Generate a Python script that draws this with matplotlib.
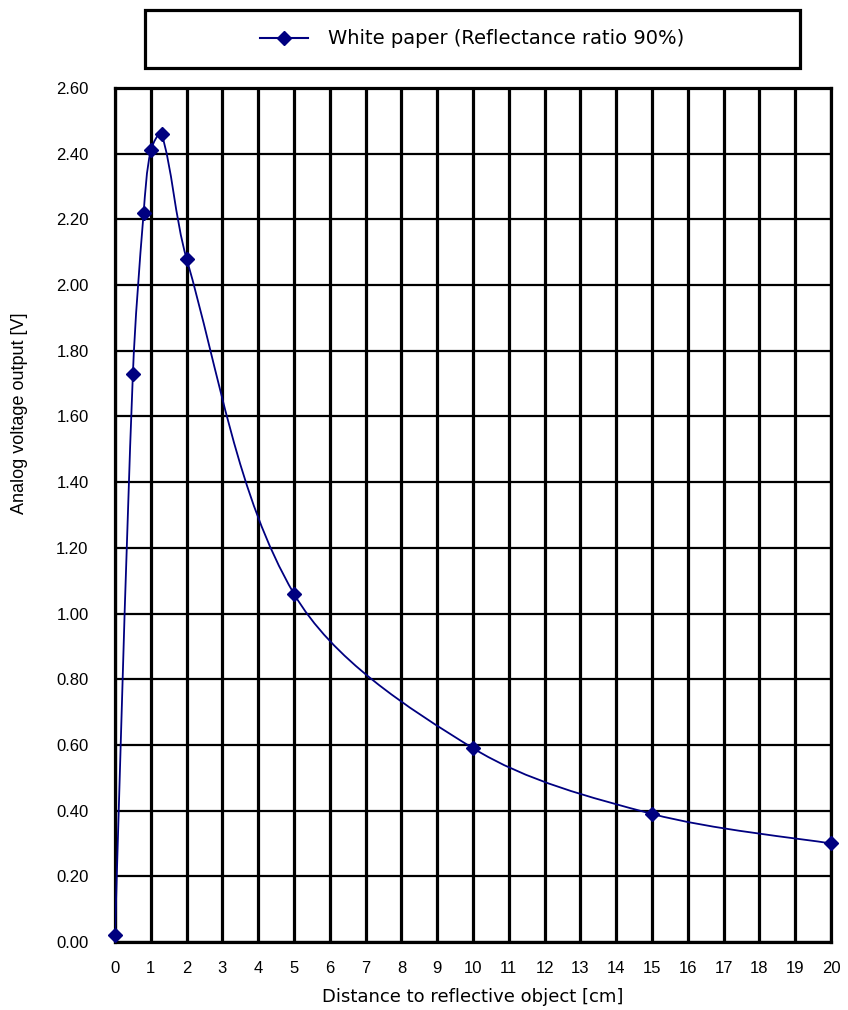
import numpy as np
import matplotlib
matplotlib.use("Agg")
import matplotlib.pyplot as plt
from matplotlib.path import Path
from matplotlib.patches import PathPatch, Rectangle
from matplotlib.lines import Line2D

# measured points (distance in cm, output in V)
distance = [0, 0.5, 0.8, 1, 1.3, 2, 5, 10, 15, 20]
voltage = [0.02, 1.73, 2.22, 2.41, 2.46, 2.08, 1.06, 0.59, 0.39, 0.30]
series_label = "White paper (Reflectance ratio 90%)"
x_ticks = list(range(0, 21))
y_ticks = [round(0.2 * i, 1) for i in range(14)]

navy = "#000080"
label_font = ["DejaVu Sans"]
tick_font = ["Liberation Sans", "DejaVu Sans"]
narrow_font = ["Liberation Sans Narrow", "Liberation Sans", "DejaVu Sans"]


def smooth_path(xs, ys, sx, sy):
    # smoothed line like Excel: cubic Beziers, handles weighted by
    # segment length (in screen units) so short segments don't overshoot
    pts = np.column_stack([xs, ys]).astype(float)
    scr = pts * [sx, sy]
    n = len(pts)
    seg = np.hypot(*np.diff(scr, axis=0).T)
    tang = []
    for i in range(n):
        a = pts[max(i - 1, 0)]
        b = pts[min(i + 1, n - 1)]
        tang.append(b - a)
    verts = [pts[0]]
    codes = [Path.MOVETO]
    for i in range(n - 1):
        d0 = seg[i - 1] if i > 0 else seg[i]
        d2 = seg[i + 1] if i + 1 < n - 1 else seg[i]
        d1 = seg[i]
        c1 = pts[i] + tang[i] * d1 / (d0 + d1) / 3.0
        c2 = pts[i + 1] - tang[i + 1] * d1 / (d1 + d2) / 3.0
        verts += [c1, c2, pts[i + 1]]
        codes += [Path.CURVE4] * 3
    return Path(verts, codes)


fig = plt.figure(figsize=(8.48, 10.10), dpi=100)
ax = fig.add_axes([115 / 848, 1 - 942 / 1010, 716 / 848, 854 / 1010])

ax.set_xlim(0, 20)
ax.set_ylim(0, 2.6)
px_x = 716 / 20
px_y = 854 / 2.6

ax.add_patch(PathPatch(smooth_path(distance, voltage, px_x, px_y), fill=False,
                       edgecolor=navy, lw=1.3, zorder=3))
ax.plot(distance, voltage, linestyle="none", marker="D", markersize=7.5,
        color=navy, zorder=4, clip_on=False)

ax.set_xticks(x_ticks)
ax.set_yticks(y_ticks)
ax.set_yticklabels([f"{v:.2f}" for v in y_ticks])
ax.tick_params(axis="both", length=0)
ax.tick_params(axis="y", pad=19)
ax.tick_params(axis="x", pad=14)
for lab in ax.get_xticklabels() + ax.get_yticklabels():
    lab.set_family(tick_font)
    lab.set_fontsize(12)

ax.grid(axis="x", color="black", lw=2.3)
ax.grid(axis="y", color="black", lw=1.6)
ax.set_axisbelow(True)
for sp in ax.spines.values():
    sp.set_linewidth(2.3)

ax.set_xlabel("Distance to reflective object [cm]", family=label_font,
              fontsize=13, labelpad=8)
fig.text(20 / 848, 1 - 413 / 1010, "Analog voltage output [V]",
         rotation=90, ha="center", va="center", family=narrow_font,
         fontsize=13)

# legend box above the plot
fig.add_artist(Rectangle((145 / 848, 1 - 68 / 1010), 655 / 848, 58 / 1010,
                         transform=fig.transFigure, fill=False,
                         edgecolor="black", lw=2.3))
handle = Line2D([], [], color=navy, lw=1.5, marker="D", markersize=7)
fig.legend(handles=[handle], labels=[series_label], loc="center",
           bbox_to_anchor=(472 / 848, 1 - 39 / 1010), frameon=False,
           prop={"family": label_font, "size": 14},
           handlelength=2.5, handletextpad=1.0)

fig.savefig("out.png", dpi=100)
